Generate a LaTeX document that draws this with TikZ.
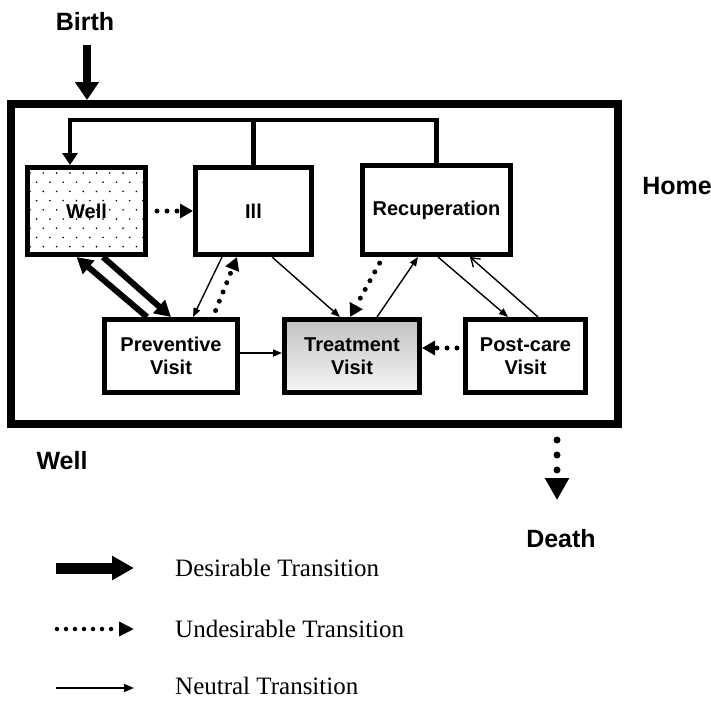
\documentclass[tikz,border=0pt]{standalone}
\usepackage{fontspec}
\setmainfont{Liberation Serif}
\newfontfamily\lsans{Liberation Sans}
\usetikzlibrary{arrows.meta,calc}

\begin{document}
\begin{tikzpicture}[x=1pt,y=-1pt,
  statebox/.style={draw, line width=5pt, inner sep=0pt, align=center,
    font=\lsans\bfseries\fontsize{20}{23}\selectfont},
  tag/.style={inner sep=0pt, font=\lsans\bfseries\fontsize{25}{29}\selectfont},
  legendtext/.style={anchor=base west, inner sep=0pt, font=\fontsize{25}{29}\selectfont},
  fbline/.style={line width=4.5pt},
  desirable/.style={line width=6pt, -{Triangle[length=16pt,width=17pt]}},
  undesirable/.style={line width=5pt, line cap=round, dash pattern=on 0pt off 10pt,
    shorten <=7pt, -{Triangle[length=13pt,width=14pt]}},
  neutral/.style={line width=1.4pt, -{Triangle[length=9pt,width=7pt]}},
]
\useasboundingbox (0,0) rectangle (711,701);

% stippled background of the Well state
\begin{scope}
  \clip (30,170) rectangle (143,252);
  \foreach \r in {0,...,9} {
    \pgfmathsetmacro\yy{173+9.2*\r}
    \pgfmathsetmacro\xo{mod(\r,2)*6.6}
    \foreach \c in {0,...,9} {
      \fill ({30+\xo+13.3*\c},\yy) circle (0.9pt);
    }
  }
\end{scope}

% outer frame (home)
\node[draw, line width=8pt, inner sep=0pt, minimum width=606.5pt, minimum height=320pt]
  (homebox) at (314.25,264) {};

% states
\node[statebox, minimum width=118pt, minimum height=87pt] (well) at (86.5,211) {Well};
\node[statebox, minimum width=116pt, minimum height=87pt] (ill) at (253.5,211) {Ill};
\node[statebox, minimum width=148pt, minimum height=89pt] (recup) at (436.5,210) {Recuperation};
\node[statebox, minimum width=133pt, minimum height=73pt] (prev) at (171,356) {Preventive\\Visit};
\node[statebox, minimum width=135pt, minimum height=73pt, top color=black!24, bottom color=black!4]
  (treat) at (352,356) {Treatment\\Visit};
\node[statebox, minimum width=120pt, minimum height=73pt] (post) at (525.5,356) {Post-care\\Visit};

% outside labels
\node[tag] (birth) at (85,22) {Birth};
\node[tag] (home) at (677,186) {Home};
\node[tag] (welllabel) at (62,461) {Well};
\node[tag] (death) at (561,539) {Death};

% birth arrow
\coordinate (bstart) at (87,45);
\draw[line width=8pt, -{Triangle[length=18pt,width=23pt]}] (bstart) -- (bstart |- homebox.north);

% death arrow
\coordinate (dstart) at (557,440);
\coordinate (dtip) at (557,500);
\draw[line width=7pt, line cap=round, dash pattern=on 0pt off 15pt,
  -{Triangle[length=22pt,width=23pt]}] (dstart) -- (dtip);

% return line to Well
\coordinate (fbleft) at (70,120);
\draw[fbline, -{Triangle[length=12pt,width=15pt]}]
  (recup.north) |- (fbleft) -- (fbleft |- well.north);
\draw[fbline] (ill.north) -- (ill.north |- fbleft);

% transitions
\draw[undesirable, shorten <=9pt] (well.east) -- (ill.west);
\draw[desirable] ([xshift=-24pt]prev.north) -- ([xshift=-10pt]well.south);
\draw[desirable] ([xshift=16.5pt]well.south) -- (prev.north);
\draw[neutral] ([xshift=-31.5pt]ill.south) -- ([xshift=22pt]prev.north);
\draw[undesirable] ([xshift=42pt]prev.north) -- ([xshift=-16.5pt]ill.south);
\draw[neutral] ([xshift=18.5pt]ill.south) -- ([xshift=-12pt]treat.north);
\draw[undesirable] ([xshift=-53.5pt]recup.south) -- ([xshift=-2pt]treat.north);
\draw[neutral] ([xshift=25pt]treat.north) -- ([xshift=-18.5pt]recup.south);
\draw[neutral] ([xshift=1.5pt]recup.south) -- ([xshift=-17.5pt]post.north);
\draw[line width=1.4pt, -{Straight Barb[length=8pt,width=11pt]}]
  ([xshift=12.5pt]post.north) -- ([xshift=33.5pt]recup.south);
\draw[neutral] ([yshift=3pt]prev.east) -- ([yshift=3pt]treat.west);
\draw[undesirable, shorten <=6pt] ([yshift=8pt]post.west) -- ([yshift=8pt]treat.east);

% legend
\coordinate (d1) at (56,568);  \coordinate (d2) at (134,568);
\coordinate (u1) at (57,629);  \coordinate (u2) at (134,629);
\coordinate (n1) at (56,688);  \coordinate (n2) at (134,688);
\draw[line width=11pt, -{Triangle[length=22pt,width=23pt]}] (d1) -- (d2);
\draw[line width=4.5pt, line cap=round, dash pattern=on 0pt off 9pt,
  -{Triangle[length=15pt,width=14pt]}] (u1) -- (u2);
\draw[line width=1.6pt, -{Triangle[length=10pt,width=8pt]}] (n1) -- (n2);
\node[legendtext] (ld) at (175,576) {Desirable Transition};
\node[legendtext] (lu) at (175,637) {Undesirable Transition};
\node[legendtext] (ln) at (175,694) {Neutral Transition};
\end{tikzpicture}
\end{document}
